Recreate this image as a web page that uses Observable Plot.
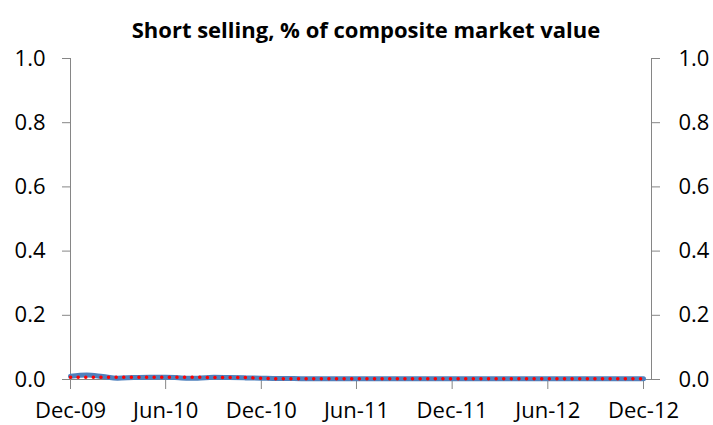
<!DOCTYPE html>
<html>
<head>
<meta charset="utf-8">
<script src="https://cdn.jsdelivr.net/npm/d3@7"></script>
<script src="https://cdn.jsdelivr.net/npm/@observablehq/plot@0.6"></script>
<style>
  html, body { margin: 0; padding: 0; background: #fff; }
  #wrap { position: relative; width: 713px; height: 425px; }
  #title { position: absolute; left: 0; width: 732px; top: 14px; text-align: center;
           font-family: "Open Sans", Lato, sans-serif; font-weight: bold; font-size: 22px; color: #000; white-space: nowrap; }
  svg { font-family: "Open Sans", Lato, sans-serif; }
</style>
</head>
<body>
<div id="wrap">
  <div id="chart"></div>
  <div id="title">Short selling, % of composite market value</div>
</div>
<script>
// Monthly observations, Dec-09 .. Dec-12
const months = [
  "2009-12","2010-01","2010-02","2010-03","2010-04","2010-05","2010-06","2010-07","2010-08","2010-09","2010-10","2010-11",
  "2010-12","2011-01","2011-02","2011-03","2011-04","2011-05","2011-06","2011-07","2011-08","2011-09","2011-10","2011-11",
  "2011-12","2012-01","2012-02","2012-03","2012-04","2012-05","2012-06","2012-07","2012-08","2012-09","2012-10","2012-11",
  "2012-12"
];
const blueSeries = [
  0.010,0.014,0.009,0.004,0.006,0.007,0.007,0.005,0.004,0.007,0.006,0.005,
  0.004,0.003,0.003,0.002,0.002,0.002,0.002,0.002,0.002,0.002,0.002,0.002,
  0.002,0.002,0.002,0.002,0.002,0.002,0.002,0.002,0.002,0.002,0.002,0.002,
  0.002
];
const redSeries = [
  0.007,0.007,0.007,0.007,0.007,0.007,0.007,0.007,0.007,0.006,0.006,0.006,
  0.004,0.002,0.002,0.002,0.002,0.002,0.002,0.002,0.002,0.002,0.002,0.002,
  0.002,0.002,0.002,0.002,0.002,0.002,0.002,0.002,0.002,0.002,0.002,0.002,
  0.002
];
const xTicks = ["2009-12","2010-06","2010-12","2011-06","2011-12","2012-06","2012-12"];
const yTicks = [0, 0.2, 0.4, 0.6, 0.8, 1.0];

const parse = d3.utcParse("%Y-%m");
const blue = months.map((m, i) => ({date: parse(m), value: blueSeries[i]}));
const red = months.map((m, i) => ({date: parse(m), value: redSeries[i]}));
const fmtX = d3.utcFormat("%b-%y");
const axisColor = "#868686";

const chart = Plot.plot({
  width: 713,
  height: 425,
  marginLeft: 70,
  marginRight: 62,
  marginTop: 58,
  marginBottom: 46,
  style: {fontSize: "22px", color: "#000", background: "#fff"},
  x: {type: "utc", domain: [parse(months[0]), parse(months[months.length - 1])], range: [70, 643]},
  y: {domain: [0, 1]},
  marks: [
    Plot.frame({anchor: "left", stroke: axisColor}),
    Plot.frame({anchor: "right", stroke: axisColor}),
    Plot.ruleY([0], {stroke: axisColor}),
    Plot.axisY({anchor: "left", ticks: yTicks, tickFormat: d3.format(".1f"), tickSize: 8, tickPadding: 17, stroke: axisColor, fill: "#000", label: null}),
    Plot.axisY({anchor: "right", ticks: yTicks, tickFormat: d3.format(".1f"), tickSize: 8, tickPadding: 19, stroke: axisColor, fill: "#000", label: null}),
    Plot.axisX({ticks: xTicks.map(parse), tickFormat: fmtX, tickSize: 10, tickPadding: 13, stroke: axisColor, fill: "#000", label: null}),
    Plot.line(blue, {x: "date", y: "value", stroke: "#4F81BD", strokeWidth: 5, curve: "monotone-x"}),
    Plot.line(red, {x: "date", y: "value", stroke: "#FF0000", strokeWidth: 3.5, strokeDasharray: "0.1,7.5", strokeLinecap: "round"})
  ]
});
document.getElementById("chart").appendChild(chart);
</script>
</body>
</html>
